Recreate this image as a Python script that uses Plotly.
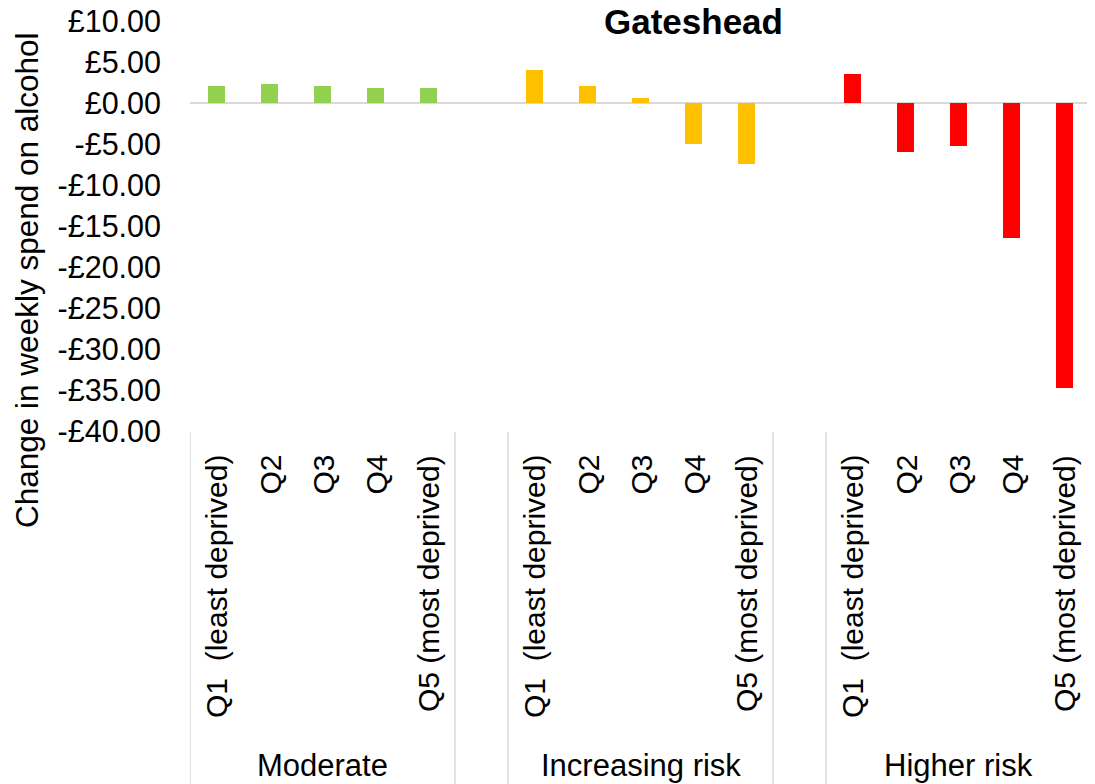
import plotly.graph_objects as go

# ---- data ----
groups = ["Moderate", "Increasing risk", "Higher risk"]
quintiles = ["Q1\u00a0 (least deprived)", "Q2", "Q3", "Q4", "Q5 (most deprived)"]
moderate = [2.04, 2.28, 2.04, 1.79, 1.79]
increasing_risk = [3.99, 2.04, 0.57, -5.00, -7.44]
higher_risk = [3.54, -5.98, -5.24, -16.46, -34.76]
colors = ["#92D050", "#FFC000", "#FF0000"]
y_ticks = [10, 5, 0, -5, -10, -15, -20, -25, -30, -35, -40]

series = [moderate, increasing_risk, higher_risk]

FONT = "Liberation Sans, Arial, sans-serif"
OFF = 8  # page body margin in the browser
W, H = 1095 - OFF, 784 - OFF
PLOT_L, PLOT_R, PLOT_T, PLOT_B = 190 - OFF, 1091 - OFF, 21 - OFF, 431 - OFF
L, R, T, B = PLOT_L, W - PLOT_R, PLOT_T, H - PLOT_B
PW = W - L - R
PH = H - T - B


def py(p):  # screen pixel y -> paper y
    return (PLOT_B - (p - OFF)) / PH


def px(p):  # screen pixel x -> paper x
    return ((p - OFF) - PLOT_L) / PW


fig = go.Figure()
slot = len(quintiles) + 1
for g, (name, vals, col) in enumerate(zip(groups, series, colors)):
    xs = [g * slot + i for i in range(len(vals))]
    fig.add_trace(go.Bar(x=xs, y=vals, name=name, marker=dict(color=col, line=dict(width=0)),
                         width=0.33, showlegend=False))
    for i, q in enumerate(quintiles):
        fig.add_annotation(x=xs[i], xref="x", y=py(453), yref="paper", text=q, textangle=-90,
                           showarrow=False, xanchor="center", yanchor="top",
                           font=dict(family=FONT, size=30, color="#000000"))
    fig.add_annotation(x=g * slot + (len(vals) - 1) / 2, xref="x", y=py(766), yref="paper",
                       text=name, showarrow=False, xanchor="center", yanchor="middle",
                       font=dict(family=FONT, size=31, color="#000000"))

n_total = slot * len(groups) - 1
# separator lines in the category area
bounds = [-0.5]
for g in range(len(groups)):
    start = g * slot - 0.5
    end = g * slot + len(quintiles) - 0.5
    if g > 0:
        bounds.append(start)
    bounds.append(end)
for b in sorted(set(bounds)):
    fig.add_shape(type="line", xref="x", yref="paper", x0=b, x1=b, y0=py(432), y1=py(784),
                  line=dict(color="#D9D9D9", width=1.5))

tick_text = [("-£%.2f" % abs(v)) if v < 0 else ("£%.2f" % v) for v in y_ticks]

fig.update_layout(
    width=W, height=H,
    margin=dict(l=L, r=R, t=T, b=B, pad=0, autoexpand=False),
    plot_bgcolor="white", paper_bgcolor="white",
    bargap=0,
    xaxis=dict(range=[-0.5, n_total - 0.5], showticklabels=False, showgrid=False,
               zeroline=False, showline=False, ticks="", automargin=False),
    yaxis=dict(range=[-40, 10], tickvals=y_ticks, ticktext=tick_text, showgrid=False,
               zeroline=True, zerolinecolor="#D9D9D9", zerolinewidth=2, showline=False,
               ticks="", ticklabelstandoff=28, automargin=False, ticklabeloverflow="allow",
               tickfont=dict(family=FONT, size=30.5, color="#000000")),
    font=dict(family=FONT, color="#000000"),
)

fig.add_annotation(x=px(27), xref="paper", y=py(280), yref="paper",
                   text="Change in weekly spend on alcohol", textangle=-90, showarrow=False,
                   xanchor="center", yanchor="middle",
                   font=dict(family=FONT, size=31.5, color="#000000"))
fig.add_annotation(x=px(693), xref="paper", y=py(21), yref="paper",
                   text="<b>Gateshead</b>", showarrow=False, xanchor="center", yanchor="middle",
                   font=dict(family=FONT, size=35, color="#000000"))

fig.write_html("out.html")
